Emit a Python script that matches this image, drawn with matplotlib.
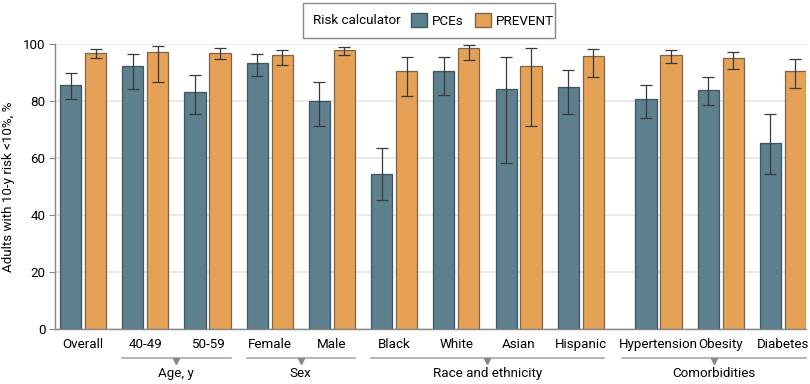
import numpy as np
import matplotlib.pyplot as plt
from matplotlib.patches import Patch, Rectangle

plt.rcParams['font.family'] = ['Roboto', 'DejaVu Sans']

categories = ['Overall', '40-49', '50-59', 'Female', 'Male', 'Black', 'White',
              'Asian', 'Hispanic', 'Hypertension', 'Obesity', 'Diabetes']
pces = [85.5, 92.0, 83.1, 93.1, 79.9, 54.5, 90.3, 84.0, 84.7, 80.5, 83.9, 65.3]
pces_lo = [80.6, 84.1, 75.3, 88.6, 71.3, 45.3, 81.9, 58.1, 75.5, 74.1, 78.4, 54.5]
pces_hi = [89.8, 96.3, 88.9, 96.3, 86.7, 63.6, 95.2, 95.3, 90.8, 85.6, 88.3, 75.3]
prevent = [96.8, 97.0, 96.8, 96.0, 97.7, 90.4, 98.3, 92.2, 95.5, 95.9, 94.9, 90.5]
prevent_lo = [95.1, 86.7, 94.6, 92.4, 95.9, 81.8, 94.2, 71.1, 88.4, 93.1, 91.2, 84.6]
prevent_hi = [98.2, 99.3, 98.5, 97.8, 98.9, 95.3, 99.4, 98.6, 98.2, 97.8, 97.2, 94.7]

groups = ['Age, y', 'Sex', 'Race and ethnicity', 'Comorbidities']
group_members = [(1, 2), (3, 4), (5, 8), (9, 11)]

c_pce = '#5e7f8e'
c_prev = '#e5a257'
fs = 9.6

x = np.arange(len(categories), dtype=float)
x[9:] += 0.25
w = 0.34
off = 0.2

fig = plt.figure(figsize=(8.1, 3.84), dpi=100)
ax = fig.add_axes([0.068, 0.1424, 0.927, 0.744])

pces = np.array(pces); prevent = np.array(prevent)
err_p = [pces - np.array(pces_lo), np.array(pces_hi) - pces]
err_v = [prevent - np.array(prevent_lo), np.array(prevent_hi) - prevent]

ax.bar(x - off, pces, w, color=c_pce, edgecolor='#3f5560', linewidth=0.9, zorder=2)
ax.bar(x + off, prevent, w, color=c_prev, edgecolor='#7d6448', linewidth=0.9, zorder=2)
ekw = dict(fmt='none', ecolor='#3a3a3a', elinewidth=0.9, capsize=4, capthick=0.9, zorder=3)
ax.errorbar(x - off, pces, yerr=err_p, **ekw)
ax.errorbar(x + off, prevent, yerr=err_v, **ekw)

ax.set_ylim(0, 100)
ax.set_xlim(-0.45, x[-1] + 0.37)
ax.set_yticks([0, 20, 40, 60, 80, 100])
ax.yaxis.grid(True, color='#e6e6e6', linewidth=1.2, zorder=0)
ax.set_axisbelow(True)
ax.set_xticks(x)
ax.set_xticklabels(categories)
ax.tick_params(axis='x', length=0, labelsize=fs, pad=6)
ax.tick_params(axis='y', length=4, color='#888888', labelsize=fs, pad=3)
for s in ['top', 'right']:
    ax.spines[s].set_visible(False)
for s in ['left', 'bottom']:
    ax.spines[s].set_color('#888888')
    ax.spines[s].set_linewidth(1.0)
ax.set_ylabel('Adults with 10-y risk <10%, %', fontsize=fs, labelpad=6)

# group brackets under the tick labels
for name, (a, b) in zip(groups, group_members):
    left = x[a] - 0.37
    if name == 'Comorbidities':
        left = x[a] - 0.58
    right = x[b] + 0.37
    mid = (left + right) / 2
    ax.plot([left, right], [-10.0, -10.0], color='#aaaaaa', lw=1.2, clip_on=False)
    ax.plot([mid], [-11.0], marker='v', color='#888888', ms=5, clip_on=False)
    ax.text(mid, -15.6, name, ha='center', va='center', fontsize=fs)

# legend: framed box with inline title
W, H = 810.0, 384.0
fig.patches.append(Rectangle((303 / W, 1 - 38 / H), 252 / W, 35 / H, transform=fig.transFigure,
                             facecolor='white', edgecolor='#888888', linewidth=1.0))
fig.text(313 / W, 1 - 20.5 / H, 'Risk calculator', ha='left', va='center', fontsize=fs)
handles = [Patch(facecolor=c_pce, edgecolor='#3f5560'),
           Patch(facecolor=c_prev, edgecolor='#7d6448')]
fig.legend(handles, ['PCEs', 'PREVENT'], ncol=2, loc='center left',
           bbox_to_anchor=(411 / W, 1 - 20.5 / H), fontsize=fs, frameon=False,
           borderaxespad=0, borderpad=0, handlelength=1.2, handleheight=1.2,
           handletextpad=0.4, columnspacing=0.8)

fig.savefig('out.png', dpi=100)
